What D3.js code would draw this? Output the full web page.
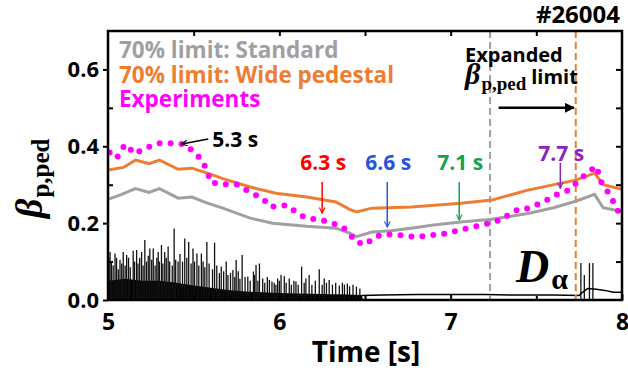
<!DOCTYPE html>
<html>
<head>
<meta charset="utf-8">
<script src="https://cdn.jsdelivr.net/npm/d3@7"></script>
<style>
body { margin: 0; background: #fff; }
text { font-family: "Open Sans", sans-serif; font-weight: 700; }
.serif { font-family: "Liberation Serif", "DejaVu Serif", serif; }
</style>
</head>
<body>
<svg id="fig" width="628" height="377"></svg>
<script>
// ---- data (time [s], beta_p,ped) ----
var standard = [[5.0,0.262],[5.08,0.275],[5.16,0.29],[5.24,0.28],[5.3,0.29],[5.41,0.265],[5.49,0.268],
  [5.58,0.252],[5.67,0.239],[5.83,0.213],[5.96,0.2],[6.16,0.192],[6.33,0.187],[6.41,0.174],[6.45,0.165],
  [6.54,0.177],[6.65,0.18],[6.77,0.187],[6.9,0.195],[7.06,0.203],[7.24,0.21],[7.45,0.225],[7.6,0.24],
  [7.73,0.257],[7.84,0.275],[7.89,0.24],[8.0,0.23]];

var widePed = [[5.0,0.338],[5.09,0.345],[5.16,0.364],[5.24,0.355],[5.3,0.364],[5.41,0.34],[5.49,0.343],
  [5.58,0.33],[5.67,0.316],[5.83,0.294],[5.98,0.278],[6.16,0.268],[6.33,0.255],[6.41,0.236],[6.45,0.229],
  [6.54,0.239],[6.77,0.242],[7.06,0.252],[7.24,0.26],[7.45,0.286],[7.73,0.312],[7.84,0.33],[7.89,0.3],[8.0,0.288]];

var experiments = [[5.01,0.384],[5.05,0.369],[5.1,0.405],[5.16,0.38],[5.2,0.392],[5.3,0.408],[5.41,0.408],
  [5.46,0.403],[5.5,0.384],[5.55,0.364],[5.58,0.333],[5.6,0.306],[5.67,0.301],[5.75,0.301],[5.83,0.28],
  [5.9,0.265],[5.95,0.242],[6.01,0.247],[6.06,0.244],[6.1,0.226],[6.16,0.213],[6.25,0.208],[6.33,0.197],
  [6.37,0.19],[6.41,0.172],[6.45,0.15],[6.51,0.145],[6.54,0.16],[6.6,0.171],[6.7,0.169],[6.8,0.164],
  [6.89,0.169],[6.95,0.171],[7.05,0.182],[7.15,0.192],[7.2,0.197],[7.29,0.208],[7.38,0.234],[7.41,0.232],
  [7.47,0.242],[7.55,0.257],[7.61,0.273],[7.69,0.286],[7.76,0.316],[7.82,0.338],[7.85,0.348],[7.88,0.306],
  [7.93,0.273],[7.98,0.229],[8.01,0.21]];

// D-alpha signal (arbitrary units on the same axis)
var daBase = [[5.0,0.0],[5.005,0.05],[5.1,0.055],[5.2,0.05],[5.3,0.05],[5.4,0.045],[5.5,0.038],[5.6,0.032],
  [5.7,0.026],[5.8,0.022],[5.9,0.02],[6.0,0.018],[6.1,0.017],[6.2,0.016],[6.3,0.015],[6.4,0.014],[6.48,0.013],[6.49,0.0]];

var daSpikes = [[5.006,0.11],[5.012,0.125],[5.02,0.10],[5.03,0.09],[5.041,0.121],[5.05,0.11],[5.06,0.08],[5.07,0.105],
  [5.08,0.095],[5.089,0.125],[5.10,0.09],[5.109,0.117],[5.12,0.11],[5.13,0.085],[5.147,0.128],[5.155,0.10],
  [5.167,0.130],[5.175,0.095],[5.185,0.11],[5.196,0.125],[5.205,0.09],[5.215,0.156],[5.225,0.1],[5.235,0.115],
  [5.244,0.134],[5.255,0.105],[5.264,0.134],[5.275,0.09],[5.285,0.11],[5.293,0.125],[5.30,0.1],[5.312,0.143],
  [5.32,0.095],[5.331,0.125],[5.34,0.11],[5.351,0.139],[5.36,0.1],[5.375,0.09],[5.386,0.186],[5.395,0.105],
  [5.409,0.1],[5.42,0.12],[5.435,0.1],[5.448,0.16],[5.46,0.11],[5.471,0.151],[5.485,0.095],[5.496,0.134],
  [5.505,0.1],[5.519,0.121],[5.53,0.09],[5.545,0.121],[5.555,0.1],[5.565,0.085],[5.577,0.151],[5.59,0.095],
  [5.61,0.08],[5.622,0.149],[5.635,0.09],[5.65,0.07],[5.661,0.087],[5.675,0.075],[5.690,0.1],[5.70,0.065],
  [5.715,0.07],[5.729,0.078],[5.74,0.06],[5.748,0.104],[5.76,0.075],[5.77,0.055],[5.783,0.117],[5.80,0.06],
  [5.816,0.061],[5.83,0.05],[5.849,0.074],[5.855,0.065],[5.864,0.091],[5.875,0.05],[5.884,0.095],[5.903,0.056],
  [5.915,0.045],[5.93,0.06],[5.942,0.052],[5.957,0.048],[5.97,0.045],[5.98,0.04],[5.990,0.056],[6.0,0.05],
  [6.010,0.065],[6.029,0.062],[6.04,0.045],[6.058,0.056],[6.07,0.04],[6.085,0.05],[6.097,0.048],[6.11,0.04],
  [6.130,0.087],[6.145,0.045],[6.155,0.056],[6.174,0.065],[6.19,0.04],[6.21,0.05],[6.233,0.08],[6.25,0.04],
  [6.262,0.056],[6.275,0.045],[6.291,0.052],[6.31,0.04],[6.329,0.045],[6.35,0.038],[6.368,0.045],[6.38,0.04],
  [6.397,0.043],[6.41,0.036],[6.43,0.04],[6.45,0.035],[6.47,0.03],
  [7.76,0.096],[7.78,0.065],[7.81,0.096],[7.83,0.096]];

var daTrace = [[6.48,0.012],[6.6,0.013],[6.8,0.014],[7.0,0.014],[7.2,0.014],[7.4,0.013],[7.6,0.013],
  [7.75,0.012],[7.77,0.02],[7.8,0.03],[7.85,0.028],[7.9,0.025],[7.95,0.02],[8.0,0.02]];

var limitTimes = [7.23, 7.73];          // dashed verticals: standard, wide pedestal
var limitColors = ['#a0a0a0', '#ed7d31'];

var legendLabels = ['70% limit: Standard', '70% limit: Wide pedestal', 'Experiments'];
var legendColors = ['#a0a0a0', '#ed7d31', '#ff00ff'];

var annoLabels = ['5.3 s', '6.3 s', '6.6 s', '7.1 s', '7.7 s'];
var annoColors = ['#000000', '#ff0000', '#2255e0', '#12a34c', '#9020c0'];
var arrowFrom = [[5.585,0.419],[6.25,0.307],[6.63,0.307],[7.05,0.307],[7.64,0.357]];
var arrowTo = [[5.43,0.406],[6.25,0.226],[6.63,0.19],[7.05,0.208],[7.64,0.291]];
var expandArrow = [[7.28,0.50],[7.72,0.50]];

var xTicks = [5, 6, 7, 8];
var yTicks = [0, 0.2, 0.4, 0.6];

// ---- scales ----
var svg = d3.select('#fig');
var x = d3.scaleLinear().domain([5, 8]).range([108, 622]);
var y = d3.scaleLinear().domain([0, 0.7]).range([300, 31]);
var pLeft = x.range()[0], pRight = x.range()[1], pTop = y.range()[1], pBottom = y.range()[0];

var defs = svg.append('defs');
defs.append('clipPath').attr('id', 'clip').append('rect')
  .attr('x', pLeft).attr('y', pTop).attr('width', pRight - pLeft).attr('height', pBottom - pTop);

annoColors.forEach(function(c, i) {
  defs.append('marker').attr('id', 'head' + i)
    .attr('viewBox', '0 0 10 10').attr('refX', 9).attr('refY', 5)
    .attr('markerWidth', 7).attr('markerHeight', 7).attr('markerUnits', 'userSpaceOnUse')
    .attr('orient', 'auto')
    .append('path').attr('d', 'M1,1 L9,5 L1,9').attr('fill', 'none')
    .attr('stroke', c).attr('stroke-width', 1.6);
});
defs.append('marker').attr('id', 'bighead')
  .attr('viewBox', '0 0 10 10').attr('refX', 9).attr('refY', 5)
  .attr('markerWidth', 12).attr('markerHeight', 10).attr('markerUnits', 'userSpaceOnUse')
  .attr('orient', 'auto')
  .append('path').attr('d', 'M0,0 L10,5 L0,10 Z').attr('fill', '#000');

var plot = svg.append('g').attr('clip-path', 'url(#clip)');

// D-alpha
plot.append('path').datum(daBase)
  .attr('d', d3.area().x(d => x(d[0])).y0(y(0)).y1(d => y(d[1])))
  .attr('fill', '#000');
plot.selectAll('line.spike').data(daSpikes).enter().append('line')
  .attr('class', 'spike')
  .attr('x1', d => x(d[0])).attr('x2', d => x(d[0]))
  .attr('y1', y(0)).attr('y2', d => y(d[1]))
  .attr('stroke', '#111').attr('stroke-width', 1.3);
plot.append('path').datum(daTrace)
  .attr('d', d3.line().x(d => x(d[0])).y(d => y(d[1])))
  .attr('fill', 'none').attr('stroke', '#000').attr('stroke-width', 1.5);

// vertical limit markers
plot.selectAll('line.limit').data(limitTimes).enter().append('line')
  .attr('class', 'limit')
  .attr('x1', d => x(d)).attr('x2', d => x(d))
  .attr('y1', pTop).attr('y2', pBottom)
  .attr('stroke', (d, i) => limitColors[i]).attr('stroke-width', 2)
  .attr('stroke-dasharray', '7,4');

var line = d3.line().x(d => x(d[0])).y(d => y(d[1]));
plot.append('path').datum(standard).attr('d', line)
  .attr('fill', 'none').attr('stroke', '#a0a0a0').attr('stroke-width', 3);
plot.append('path').datum(widePed).attr('d', line)
  .attr('fill', 'none').attr('stroke', '#ed7d31').attr('stroke-width', 3);
plot.append('path').datum(experiments).attr('d', line)
  .attr('fill', 'none').attr('stroke', '#ff00ff').attr('stroke-width', 6)
  .attr('stroke-linecap', 'round').attr('stroke-dasharray', '0,11');

// ---- axes ----
var fmt = d3.format('.1f');
var gx = svg.append('g').attr('transform', 'translate(0,' + pBottom + ')')
  .call(d3.axisBottom(x).tickValues(xTicks).tickSizeInner(-6).tickSizeOuter(0).tickPadding(14).tickFormat(d3.format('d')));
var gxt = svg.append('g').attr('transform', 'translate(0,' + pTop + ')')
  .call(d3.axisTop(x).tickValues([5.5, 6, 6.5, 7, 7.5]).tickSizeInner(-5).tickSizeOuter(0).tickFormat(''));
var gxm = svg.append('g').attr('transform', 'translate(0,' + pBottom + ')')
  .call(d3.axisBottom(x).tickValues([5.5, 6.5, 7.5]).tickSizeInner(-4).tickSizeOuter(0).tickFormat(''));
var gy = svg.append('g').attr('transform', 'translate(' + pLeft + ',0)')
  .call(d3.axisLeft(y).tickValues(yTicks).tickSizeInner(5).tickSizeOuter(0).tickPadding(4).tickFormat(fmt));
var gym = svg.append('g').attr('transform', 'translate(' + pLeft + ',0)')
  .call(d3.axisLeft(y).tickValues([0.1, 0.3, 0.5]).tickSizeInner(-5).tickSizeOuter(0).tickFormat(''));
var gyr = svg.append('g').attr('transform', 'translate(' + pRight + ',0)')
  .call(d3.axisRight(y).tickValues([0.1, 0.2, 0.3, 0.4, 0.5, 0.6]).tickSizeInner(-6).tickSizeOuter(0).tickFormat(''));

[gx, gxt, gxm, gy, gym, gyr].forEach(function(g) {
  g.select('.domain').remove();
  g.selectAll('.tick line').attr('stroke', '#000').attr('stroke-width', 2);
  g.selectAll('text').attr('font-family', '"Open Sans", sans-serif').attr('font-weight', 700)
    .attr('font-size', 22).attr('fill', '#000');
});
gx.selectAll('text').attr('font-size', 23);

svg.append('rect').attr('x', pLeft).attr('y', pTop)
  .attr('width', pRight - pLeft).attr('height', pBottom - pTop)
  .attr('fill', 'none').attr('stroke', '#000').attr('stroke-width', 2.5);

svg.append('text').attr('x', (pLeft + pRight) / 2 + 1).attr('y', 362)
  .attr('text-anchor', 'middle').attr('font-size', 28).text('Time [s]');

var ylab = svg.append('text').attr('class', 'serif')
  .attr('transform', 'translate(42,218) rotate(-90)');
ylab.append('tspan').attr('font-size', 38).attr('font-style', 'italic').text('\u03B2');
ylab.append('tspan').attr('font-size', 25).attr('dy', 7).attr('dx', 1).text('p,ped');

svg.append('text').attr('x', 620).attr('y', 23).attr('text-anchor', 'end')
  .attr('font-size', 24).text('#26004');

// legend
svg.selectAll('text.legend').data(legendLabels).enter().append('text')
  .attr('class', 'legend')
  .attr('x', 119).attr('y', (d, i) => 58 + i * 24.5)
  .attr('font-size', 22.5).attr('fill', (d, i) => legendColors[i]).text(d => d);

// expanded limit note
svg.append('text').attr('x', 465).attr('y', 62).attr('font-size', 20).text('Expanded');
var expl = svg.append('text').attr('x', 465).attr('y', 84);
expl.append('tspan').attr('class', 'serif').attr('font-size', 30).attr('font-style', 'italic').text('\u03B2');
expl.append('tspan').attr('class', 'serif').attr('font-size', 19).attr('dy', 6).attr('dx', 1).text('p,ped');
expl.append('tspan').attr('font-size', 20).attr('dy', -6).attr('dx', 5).text('limit');
svg.append('line').datum(expandArrow)
  .attr('x1', d => x(d[0][0])).attr('y1', d => y(d[0][1]))
  .attr('x2', d => x(d[1][0])).attr('y2', d => y(d[1][1]))
  .attr('stroke', '#000').attr('stroke-width', 2.5).attr('marker-end', 'url(#bighead)');

// time annotations
annoLabels.forEach(function(lab, i) {
  svg.append('line')
    .attr('x1', x(arrowFrom[i][0])).attr('y1', y(arrowFrom[i][1]))
    .attr('x2', x(arrowTo[i][0])).attr('y2', y(arrowTo[i][1]))
    .attr('stroke', annoColors[i]).attr('stroke-width', 1.5)
    .attr('marker-end', 'url(#head' + i + ')');
  var t = svg.append('text').attr('font-size', 21).attr('fill', annoColors[i]).text(lab);
  if (i === 0) {
    t.attr('x', x(arrowFrom[i][0]) + 4).attr('y', y(arrowFrom[i][1]) + 8);
  } else {
    t.attr('text-anchor', 'middle').attr('x', x(arrowFrom[i][0]) + 1)
      .attr('y', y(arrowFrom[i][1]) - (i === 4 ? 2 : 12));
  }
});

// D-alpha label
var dal = svg.append('text').attr('class', 'serif').attr('x', 516).attr('y', 282);
dal.append('tspan').attr('font-size', 46).attr('font-style', 'italic').text('D');
dal.append('tspan').attr('font-size', 30).attr('dy', 7).attr('dx', 2).text('\u03B1');
</script>
</body>
</html>
